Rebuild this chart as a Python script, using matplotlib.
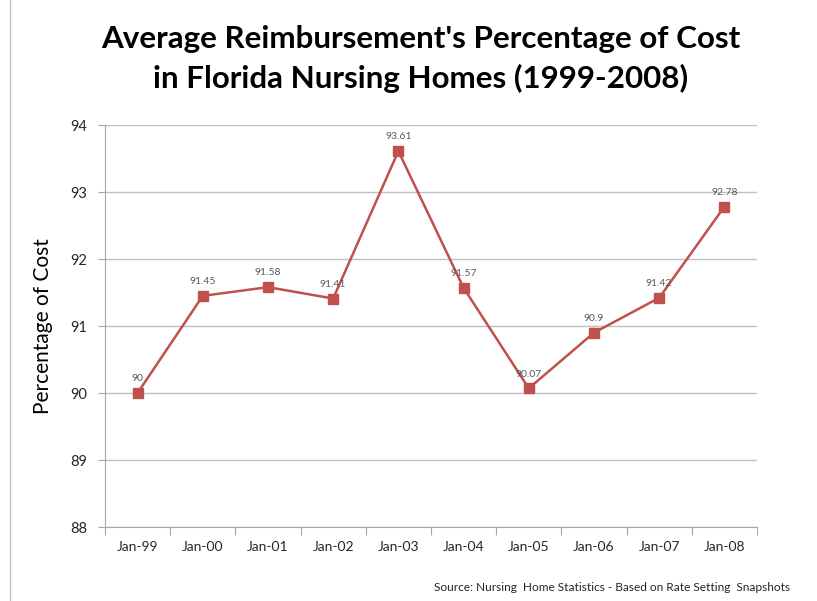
import matplotlib
matplotlib.use("Agg")
import matplotlib.pyplot as plt
from matplotlib.lines import Line2D

# 데이터
months = ["Jan-99", "Jan-00", "Jan-01", "Jan-02", "Jan-03",
          "Jan-04", "Jan-05", "Jan-06", "Jan-07", "Jan-08"]
pct_cost = [90, 91.45, 91.58, 91.41, 93.61, 91.57, 90.07, 90.9, 91.42, 92.78]
value_labels = ["90", "91.45", "91.58", "91.41", "93.61",
                "91.57", "90.07", "90.9", "91.42", "92.78"]
y_ticks = [88, 89, 90, 91, 92, 93, 94]

RED = "#C0504D"
GRID = "#BFBFBF"
TEXT = "#262626"

plt.rcParams["font.family"] = ["Lato", "DejaVu Sans"]

fig = plt.figure(figsize=(8.17, 6.01), dpi=100)
ax = fig.add_axes([0.1285, 0.1231, 0.798, 0.6689])

x = list(range(len(months)))
ax.plot(x, pct_cost, color=RED, linewidth=1.8, marker="s", markersize=7,
        markerfacecolor=RED, markeredgecolor=RED, zorder=3)

for xi, yi, lab in zip(x, pct_cost, value_labels):
    ax.annotate(lab, (xi, yi), xytext=(0, 7), textcoords="offset points",
                ha="center", va="bottom", fontsize=7.5, color="#595959")

ax.set_xlim(-0.5, len(months) - 0.5)
ax.set_ylim(88, 94)
ax.set_yticks(y_ticks)
ax.set_yticklabels([str(t) for t in y_ticks], fontsize=10.5, color=TEXT)
ax.yaxis.grid(True, color=GRID, linewidth=1)
ax.set_axisbelow(True)

# 카테고리 축: 틱은 카테고리 사이에
ax.set_xticks([i + 0.5 for i in range(-1, len(months))], minor=False)
ax.set_xticklabels([])
ax.set_xticks(x, minor=True)
ax.set_xticklabels(months, minor=True, fontsize=10, color=TEXT)
ax.tick_params(axis="x", which="minor", length=0, pad=10)
ax.tick_params(axis="x", which="major", length=6, color="#A6A6A6", direction="out")
ax.tick_params(axis="y", length=5, color="#A6A6A6", direction="out", pad=8)

for side in ["top", "right"]:
    ax.spines[side].set_visible(False)
for side in ["left", "bottom"]:
    ax.spines[side].set_color("#A6A6A6")

ax.set_ylabel("Percentage of Cost", fontsize=15, color="black", labelpad=12)

fig.text(0.515, 0.935, "Average Reimbursement's Percentage of Cost",
         ha="center", va="center", fontsize=22.6, fontweight="bold", color="black")
fig.text(0.515, 0.870, "in Florida Nursing Homes (1999-2008)",
         ha="center", va="center", fontsize=22.6, fontweight="bold", color="black")

fig.text(0.967, 0.022, "Source: Nursing  Home Statistics - Based on Rate Setting  Snapshots",
         ha="right", va="center", fontsize=8.6, color=TEXT)

# 차트 테두리 (왼쪽 선)
fig.add_artist(Line2D([0.012, 0.012], [0.0, 1.0], transform=fig.transFigure,
                      color="#BFBFBF", linewidth=1))

fig.savefig("out.png", dpi=100)
